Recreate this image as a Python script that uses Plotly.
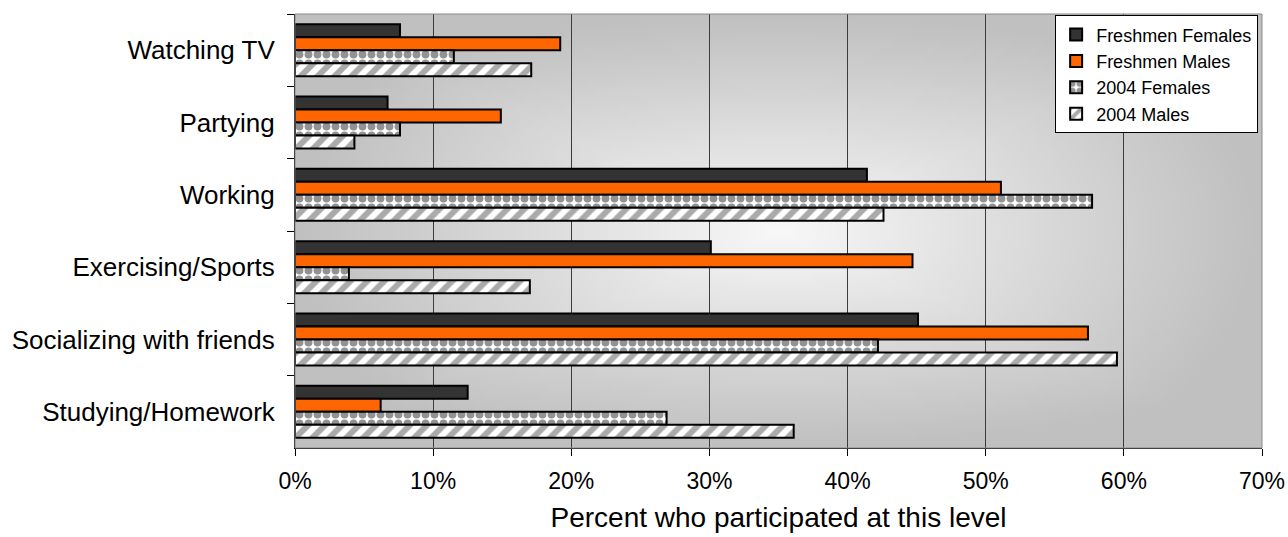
import base64
import struct
import zlib

import numpy as np
import plotly.graph_objects as go

# Activities, listed top to bottom
categories = [
    "Watching TV",
    "Partying",
    "Working",
    "Exercising/Sports",
    "Socializing with friends",
    "Studying/Homework",
]

# Percent who participated at this level
freshmen_females = [7.6, 6.7, 41.4, 30.1, 45.1, 12.5]
freshmen_males = [19.2, 14.9, 51.1, 44.7, 57.4, 6.2]
females_2004 = [11.5, 7.6, 57.7, 3.9, 42.2, 26.9]
males_2004 = [17.1, 4.3, 42.6, 17.0, 59.5, 36.1]

x_tick_values = [0, 10, 20, 30, 40, 50, 60, 70]
x_tick_labels = ["0%", "10%", "20%", "30%", "40%", "50%", "60%", "70%"]

FONT = "Liberation Sans, Arial, sans-serif"


def gradient_png(w=240, h=120, light=248, dark=192):
    """Grey 'from centre' gradient for the plot area, as a PNG data URI."""
    xs = (np.arange(w) + 0.5) / w * 2 - 1
    ys = (np.arange(h) + 0.5) / h * 2 - 1
    gx, gy = np.meshgrid(xs, ys)
    d = np.sqrt(gx ** 2 + gy ** 2) * 0.55 + np.maximum(np.abs(gx), np.abs(gy)) * 0.45
    d = np.clip(d, 0, 1)
    img = (light - (light - dark) * d).astype(np.uint8)
    raw = b"".join(b"\x00" + row.tobytes() for row in img)

    def chunk(tag, data):
        body = tag + data
        return struct.pack(">I", len(data)) + body + struct.pack(">I", zlib.crc32(body) & 0xFFFFFFFF)

    ihdr = struct.pack(">IIBBBBB", w, h, 8, 0, 0, 0, 0)
    png = (b"\x89PNG\r\n\x1a\n" + chunk(b"IHDR", ihdr)
           + chunk(b"IDAT", zlib.compress(raw, 9)) + chunk(b"IEND", b""))
    return "data:image/png;base64," + base64.b64encode(png).decode()


edge = dict(color="black", width=2)

fig = go.Figure()
fig.add_trace(go.Bar(
    name="Freshmen Females", y=categories, x=freshmen_females, orientation="h",
    marker=dict(color="#333333", line=edge),
))
fig.add_trace(go.Bar(
    name="Freshmen Males", y=categories, x=freshmen_males, orientation="h",
    marker=dict(color="#ff6600", line=edge),
))
fig.add_trace(go.Bar(
    name="2004 Females", y=categories, x=females_2004, orientation="h",
    marker=dict(
        color="white", line=edge,
        pattern=dict(shape=".", fgcolor="#262626", bgcolor="white", size=9, solidity=0.6),
    ),
))
fig.add_trace(go.Bar(
    name="2004 Males", y=categories, x=males_2004, orientation="h",
    marker=dict(
        color="white", line=edge,
        pattern=dict(shape="/", fgcolor="#555555", bgcolor="white", size=12, solidity=0.5),
    ),
))

fig.update_layout(
    width=1288, height=537,
    margin=dict(l=295, r=26, t=14, b=89),
    paper_bgcolor="white",
    plot_bgcolor="#c4c4c4",
    barmode="group",
    bargap=0.28,
    bargroupgap=0,
    font=dict(family=FONT, color="black"),
    showlegend=True,
    legend=dict(
        x=0.996, y=0.997, xanchor="right", yanchor="top",
        bgcolor="white", bordercolor="black", borderwidth=1,
        font=dict(family=FONT, size=18, color="black"),
        tracegroupgap=0,
    ),
    images=[dict(
        source=gradient_png(), xref="paper", yref="paper",
        x=0, y=1, sizex=1, sizey=1, xanchor="left", yanchor="top",
        sizing="stretch", layer="below",
    )],
    shapes=[dict(
        type="rect", xref="paper", yref="paper", x0=0, x1=1, y0=0, y1=1,
        line=dict(color="#8a8a8a", width=1), layer="above",
    )],
)

fig.update_xaxes(
    range=[0, 70], tickmode="array", tickvals=x_tick_values, ticktext=x_tick_labels,
    automargin=False,
    showgrid=True, gridcolor="#3c3c3c", gridwidth=1, zeroline=False,
    showline=True, linecolor="black", linewidth=1,
    ticks="outside", ticklen=7, tickcolor="black",
    tickfont=dict(family=FONT, size=23),
    ticklabelstandoff=5,
    title=dict(text="Percent who participated at this level",
               font=dict(family=FONT, size=28), standoff=14),
)
fig.update_yaxes(
    type="category", autorange="reversed", automargin=False,
    showgrid=False, zeroline=False,
    showline=True, linecolor="black", linewidth=1,
    ticks="outside", ticklen=7, tickcolor="black", tickson="boundaries",
    tickfont=dict(family=FONT, size=26),
    ticklabelstandoff=14,
)

fig.write_html("out.html")
